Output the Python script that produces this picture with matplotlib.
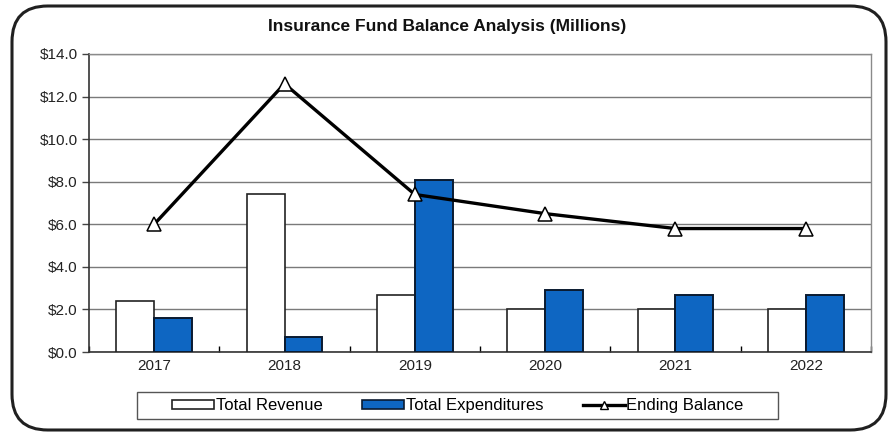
import numpy as np
import matplotlib.pyplot as plt
from matplotlib.patches import FancyBboxPatch, Rectangle, Patch
from matplotlib.lines import Line2D

# Insurance fund figures, in millions
years = ['2017', '2018', '2019', '2020', '2021', '2022']
revenue = [2.4, 7.4, 2.7, 2.0, 2.0, 2.0]
expenditures = [1.6, 0.7, 8.1, 2.9, 2.7, 2.7]
ending_balance = [6.0, 12.6, 7.4, 6.5, 5.8, 5.8]
y_ticks = [0, 2, 4, 6, 8, 10, 12, 14]

fig = plt.figure(figsize=(8.94, 4.36), dpi=100)
plt.rcParams['font.family'] = ['Liberation Sans', 'DejaVu Sans']
W, H = 894, 436

# Rounded outer frame, kept behind the axes
frame = FancyBboxPatch((12 / W, 6 / H), 874 / W, 424 / H,
                       boxstyle='round,pad=0,rounding_size=0.04',
                       transform=fig.transFigure, facecolor='white',
                       edgecolor='#202020', linewidth=2.2, zorder=-5,
                       mutation_aspect=W / H)
fig.patches.append(frame)

ax = fig.add_axes([89 / W, 1 - 352 / H, 782 / W, 298 / H])
ax.set_zorder(2)
ax.set_facecolor('white')

x = np.arange(len(years))
w = 0.29
ax.bar(x - w / 2, revenue, w, color='white', edgecolor='#222222', linewidth=1.2, zorder=3)
ax.bar(x + w / 2, expenditures, w, color='#0e66c2', edgecolor='#0a1a30', linewidth=1.4, zorder=3)
ax.plot(x, ending_balance, color='black', linewidth=2.4, marker='^', markersize=10,
        markerfacecolor='white', markeredgecolor='black', markeredgewidth=1.1, zorder=4)

ax.set_xlim(-0.5, len(years) - 0.5)
ax.set_ylim(0, 14)
ax.set_yticks(y_ticks)
ax.set_yticklabels(['${:.1f}'.format(v) for v in y_ticks], fontsize=11, color='#222222')
ax.set_xticks(x)
ax.set_xticklabels(years, fontsize=11, color='#222222')
ax.tick_params(axis='x', length=0, pad=5)
ax.tick_params(axis='y', length=5, direction='out', width=1, color='#444444', pad=3)
ax.set_xticks(np.arange(len(years) + 1) - 0.5, minor=True)
ax.tick_params(axis='x', which='minor', length=4, direction='in', width=1)

ax.yaxis.grid(True, color='#7a7a7a', linewidth=1.0, zorder=0)
ax.set_axisbelow(True)
for side in ['top', 'right']:
    ax.spines[side].set_color('#8a8a8a')
    ax.spines[side].set_linewidth(1.0)
for side in ['left', 'bottom']:
    ax.spines[side].set_color('#333333')
    ax.spines[side].set_linewidth(1.2)

fig.text(0.5, 1 - 26 / H, 'Insurance Fund Balance Analysis (Millions)',
         ha='center', va='center', fontsize=12.5, fontweight='bold', color='#111111')

# Legend: box drawn separately so its side margins can be wider than its top/bottom
legend_box = Rectangle((137 / W, 1 - 419 / H), 641 / W, 27 / H, transform=fig.transFigure,
                       facecolor='white', edgecolor='#555555', linewidth=1.0, zorder=3)
fig.patches.append(legend_box)

handles = [
    Patch(facecolor='white', edgecolor='#222222', linewidth=1.2, label='Total Revenue'),
    Patch(facecolor='#0e66c2', edgecolor='#0a1a30', linewidth=1.2, label='Total Expenditures'),
    Line2D([0], [0], color='black', linewidth=2.4, marker='^', markersize=6,
           markerfacecolor='white', markeredgecolor='black', label='Ending Balance'),
]
leg = fig.legend(handles=handles, loc='center', bbox_to_anchor=(458 / W, 1 - 405.5 / H),
                 ncol=3, frameon=False, fontsize=12, handlelength=2.5,
                 handleheight=0.45, handletextpad=0.1, columnspacing=2.4,
                 borderpad=0, borderaxespad=0)
leg.set_zorder(4)

fig.savefig('out.png', dpi=100)
